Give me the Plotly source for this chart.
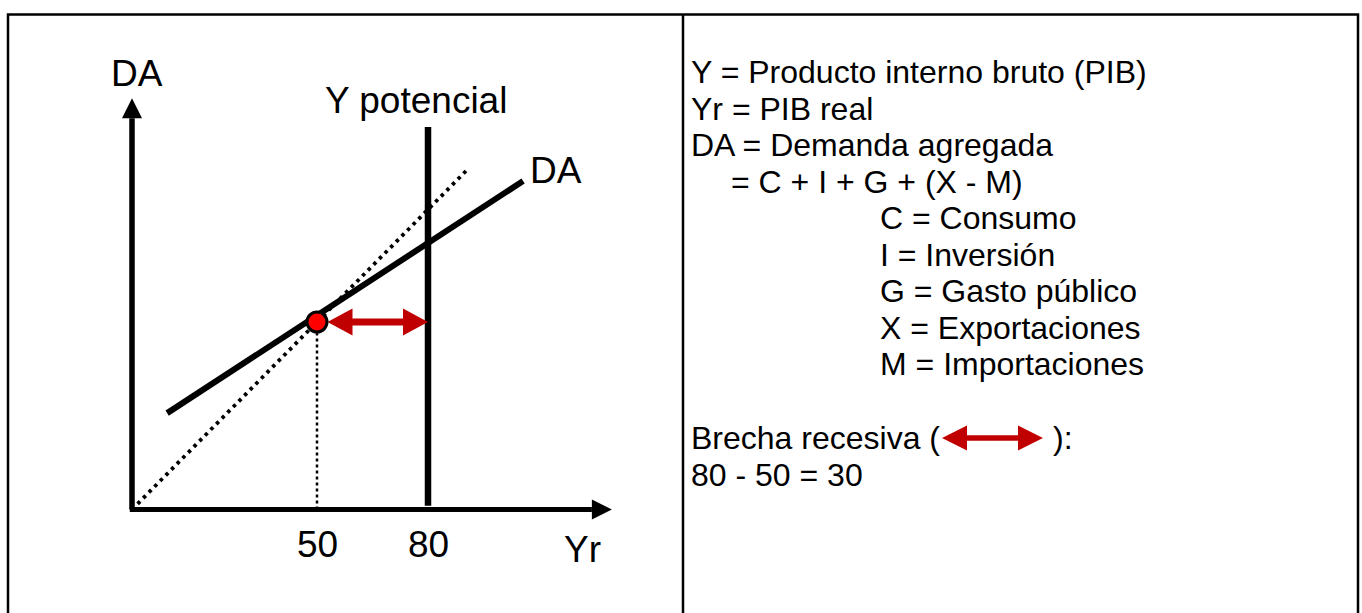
import plotly.graph_objects as go

# ---------------- data ----------------
yr_equilibrium = 50          # PIB real de equilibrio
yr_potential = 80            # Y potencial
da_x = [9.5, 105.7]          # curva DA
da_y = [25.7, 87.6]
diag_x = [0, 91]             # recta de 45 grados (DA = Yr)
diag_y = [0, 91]
potential_y = [1, 102]       # extremo inferior / superior de Y potencial
tick_vals = [50, 80]
tick_labels = ["50", "80"]
x_axis_end = 129.7
y_axis_end = 109.7

legend_left = [
    "Y = Producto interno bruto (PIB)",
    "Yr = PIB real",
    "DA = Demanda agregada",
]
legend_formula = ["= C + I + G + (X - M)"]
legend_components = [
    "C = Consumo",
    "I = Inversión",
    "G = Gasto público",
    "X = Exportaciones",
    "M = Importaciones",
]
gap_label = "Brecha recesiva ("
gap_label_end = "):"
gap_calc = f"{yr_potential} - {yr_equilibrium} = {yr_potential - yr_equilibrium}"

# ---------------- layout constants ----------------
W, H = 1362, 613
X0_PX, Y0_PX = 132, 509.5      # pixel position of origin
SX, SY = 3.7, 3.75             # pixels per unit
x_range = [-X0_PX / SX, (W - X0_PX) / SX]
y_range = [-(H - Y0_PX) / SY, Y0_PX / SY]

FONT = "Liberation Sans, Arial, sans-serif"
BLACK = "#000000"
DARKRED = "#C00000"
RED = "#FF0000"

fig = go.Figure()


def tri(tip_x, tip_y, direction, length, half):
    """triangle arrowhead in data units"""
    if direction == "up":
        xs = [tip_x, tip_x - half, tip_x + half, tip_x]
        ys = [tip_y, tip_y - length, tip_y - length, tip_y]
    elif direction == "right":
        xs = [tip_x, tip_x - length, tip_x - length, tip_x]
        ys = [tip_y, tip_y + half, tip_y - half, tip_y]
    else:  # left
        xs = [tip_x, tip_x + length, tip_x + length, tip_x]
        ys = [tip_y, tip_y + half, tip_y - half, tip_y]
    return xs, ys


def add_head(xs, ys, color, xaxis="x", yaxis="y"):
    fig.add_trace(go.Scatter(x=xs, y=ys, mode="lines", fill="toself",
                             fillcolor=color, line=dict(width=0, color=color),
                             hoverinfo="skip", showlegend=False,
                             xaxis=xaxis, yaxis=yaxis))


def add_line(xs, ys, color, width, dash="solid", xaxis="x", yaxis="y"):
    fig.add_trace(go.Scatter(x=xs, y=ys, mode="lines",
                             line=dict(color=color, width=width, dash=dash),
                             hoverinfo="skip", showlegend=False,
                             xaxis=xaxis, yaxis=yaxis))


# axes with arrows
head_len_x = 20 / SX
head_half_x = 10 / SY
head_len_y = 20 / SY
head_half_y = 10 / SX
add_line([-0.6, x_axis_end - head_len_x], [0, 0], BLACK, 5)
add_head(*tri(x_axis_end, 0, "right", head_len_x, head_half_x), BLACK)
add_line([0, 0], [0, y_axis_end - head_len_y], BLACK, 5.5)
add_head(*tri(0, y_axis_end, "up", head_len_y, head_half_y), BLACK)

# 45-degree dotted line
add_line(diag_x, diag_y, BLACK, 3.8, dash="3.5px,4.5px")
# dotted drop line from equilibrium to axis
add_line([yr_equilibrium, yr_equilibrium], [0, yr_equilibrium], BLACK, 2.5, dash="3px,3px")
# Y potencial
add_line([yr_potential, yr_potential], potential_y, BLACK, 6.5)
# DA curve
add_line(da_x, da_y, BLACK, 6)

# recessionary gap arrow
r_head_len = 25 / SX
r_half = 13.5 / SY
gap_start = yr_equilibrium + 10.5 / SX
gap_end = yr_potential
add_line([gap_start + r_head_len - 0.5, gap_end - r_head_len + 0.5],
         [yr_equilibrium, yr_equilibrium], DARKRED, 7)
add_head(*tri(gap_start, yr_equilibrium, "left", r_head_len, r_half), DARKRED)
add_head(*tri(gap_end, yr_equilibrium, "right", r_head_len, r_half), DARKRED)

# equilibrium point
fig.add_trace(go.Scatter(x=[yr_equilibrium], y=[yr_equilibrium], mode="markers",
                         marker=dict(size=20, color=RED, line=dict(color=BLACK, width=3)),
                         hoverinfo="skip", showlegend=False))

# ---- page-pixel overlay (frame + legend arrow) ----
add_line([8, 8, 1358, 1358], [H + 20, 14.5, 14.5, H + 20], BLACK, 2.5, xaxis="x2", yaxis="y2")
add_line([683, 683], [14.5, H + 20], BLACK, 2.5, xaxis="x2", yaxis="y2")

leg_y = 438
leg_x0, leg_x1 = 942, 1043
add_line([leg_x0 + 24, leg_x1 - 24], [leg_y, leg_y], DARKRED, 5.5, xaxis="x2", yaxis="y2")
add_head([leg_x0, leg_x0 + 25, leg_x0 + 25, leg_x0], [leg_y, leg_y - 12.5, leg_y + 12.5, leg_y],
         DARKRED, xaxis="x2", yaxis="y2")
add_head([leg_x1, leg_x1 - 25, leg_x1 - 25, leg_x1], [leg_y, leg_y - 12.5, leg_y + 12.5, leg_y],
         DARKRED, xaxis="x2", yaxis="y2")

# ---------------- annotations ----------------
ann = []


def text(s, x, y, size, xanchor="left", xref="x2", yref="y2"):
    ann.append(dict(text=s, x=x, y=y, xref=xref, yref=yref, showarrow=False,
                    xanchor=xanchor, yanchor="middle",
                    font=dict(family=FONT, size=size, color=BLACK)))


LBL = 37
text("DA", 137, 73, LBL, xanchor="center")
text("Y potencial", 415.5, 100, LBL, xanchor="center")
text("DA", 555.5, 170, LBL, xanchor="center")
for v, lab in zip(tick_vals, tick_labels):
    text(lab, v, 544, LBL, xanchor="center", xref="x")
text("Yr", 582, 549, LBL, xanchor="center")

TXT = 32
step = 36.5
y0 = 72
lines = ([(s, 689) for s in legend_left] + [(s, 729) for s in legend_formula]
         + [(s, 878) for s in legend_components])
for i, (s, x) in enumerate(lines):
    text(s, x, y0 + i * step, TXT)
text(gap_label, 689, leg_y, TXT)
text(gap_label_end, 1051, leg_y, TXT)
text(gap_calc, 689, leg_y + step, TXT)

axis_off = dict(visible=False, showgrid=False, zeroline=False, fixedrange=True)
fig.update_layout(
    width=W, height=H,
    margin=dict(l=0, r=0, t=0, b=0),
    paper_bgcolor="white", plot_bgcolor="white",
    xaxis=dict(range=x_range, **axis_off),
    yaxis=dict(range=y_range, **axis_off),
    xaxis2=dict(range=[0, W], overlaying="x", **axis_off),
    yaxis2=dict(range=[H, 0], overlaying="y", **axis_off),
    annotations=ann,
    showlegend=False,
)

fig.write_html("out.html",
               config={"displayModeBar": False},
               post_script="document.body.style.margin='0';"
                           "document.documentElement.style.overflow='hidden';")
